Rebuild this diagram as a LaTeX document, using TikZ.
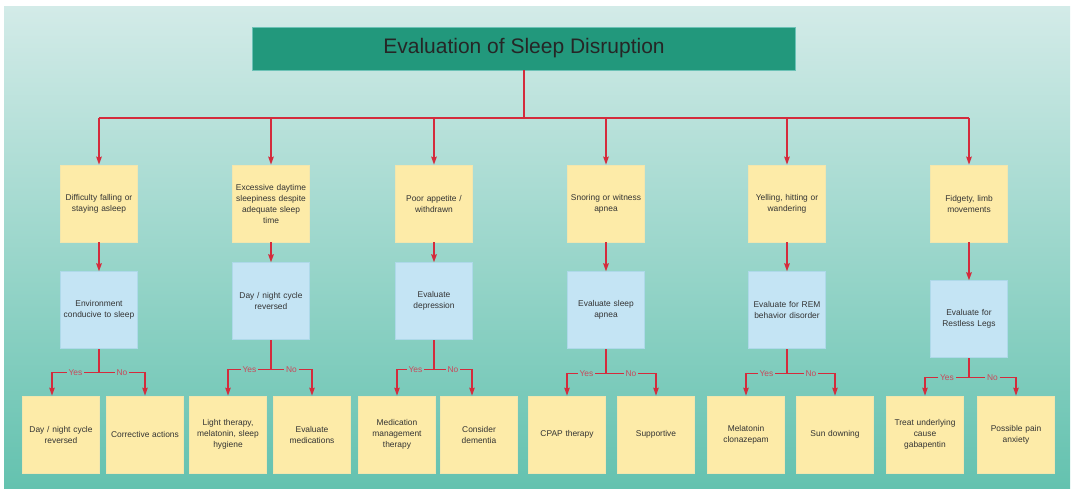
\documentclass[tikz,border=0pt]{standalone}
\usepackage{fontspec}
\setmainfont{Liberation Sans}
\usetikzlibrary{arrows.meta,positioning}

\definecolor{bgtop}{HTML}{D3EBE8}
\definecolor{bgbot}{HTML}{64C2AF}
\definecolor{titlefill}{HTML}{22987C}
\definecolor{titleline}{HTML}{6CC2B6}
\definecolor{redline}{HTML}{D42B3C}
\definecolor{labelred}{HTML}{C9485A}
\definecolor{sympt}{HTML}{FDEBA8}
\definecolor{symptline}{HTML}{F2E6AE}
\definecolor{evalfill}{HTML}{C4E4F4}
\definecolor{evalline}{HTML}{AED9E9}
\definecolor{txt}{HTML}{333333}

\tikzset{
	box/.style={rectangle, minimum width=77pt, minimum height=77pt, text width=76pt, inner sep=0.5pt, align=center, text=txt, line width=0.7pt, font=\fontsize{8.4}{11}\selectfont},
	symptom/.style={box, fill=sympt, draw=symptline},
	evalbox/.style={box, fill=evalfill, draw=evalline},
	yn/.style={inner sep=1.5pt, text=labelred, font=\fontsize{8.4}{9}\selectfont},
	trunk/.style={draw=redline, line width=1.8pt},
	feed/.style={draw=redline, line width=1.3pt, ->},
	branch/.style={draw=redline, line width=1.2pt},
}

\begin{document}
\begin{tikzpicture}[x=1pt, y=-1pt, >={Stealth[length=8pt, width=5.5pt, inset=1pt]}]
	
	%Hintergrund
	\useasboundingbox (0,0) rectangle (1072,488);
	\shade[top color=bgtop, bottom color=bgbot] (4,6) rectangle (1070,488);
	
	%Titel
	\node (title) [rectangle, fill=titlefill, draw=titleline, line width=0.8pt, minimum width=543pt, minimum height=43pt, text=black!85, font=\fontsize{21}{24}\selectfont] at (524,48.5) {Evaluation of Sleep Disruption};
	\coordinate (hub) at (524,118);
	
	%Symptome
	\node (s1) [symptom] at (99,203.5) {Difficulty falling or\\staying asleep};
	\node (s2) [symptom] at (271,203.5) {Excessive daytime\\sleepiness despite\\adequate sleep\\time};
	\node (s3) [symptom] at (434,203.5) {Poor appetite /\\withdrawn};
	\node (s4) [symptom] at (606,203.5) {Snoring or witness\\apnea};
	\node (s5) [symptom] at (787,203.5) {Yelling, hitting or\\wandering};
	\node (s6) [symptom] at (969,203.5) {Fidgety, limb\\movements};
	
	%Abklaerung
	\node (e1) [evalbox, below=29pt of s1] {Environment\\conducive to sleep};
	\node (e2) [evalbox, below=20pt of s2] {Day / night cycle\\reversed};
	\node (e3) [evalbox, below=20pt of s3] {Evaluate\\depression};
	\node (e4) [evalbox, below=29pt of s4] {Evaluate sleep\\apnea};
	\node (e5) [evalbox, below=29pt of s5] {Evaluate for REM\\behavior disorder};
	\node (e6) [evalbox, below=38pt of s6] {Evaluate for\\Restless Legs};
	
	%Massnahmen
	\node (d1) [symptom] at (61,434.5) {Day / night cycle\\reversed};
	\node (d2) [symptom] at (145,434.5) {Corrective actions};
	\node (d3) [symptom] at (228,434.5) {Light therapy,\\melatonin, sleep\\hygiene};
	\node (d4) [symptom] at (312,434.5) {Evaluate\\medications};
	\node (d5) [symptom] at (397,434.5) {Medication\\management\\therapy};
	\node (d6) [symptom] at (479,434.5) {Consider\\dementia};
	\node (d7) [symptom] at (567,434.5) {CPAP therapy};
	\node (d8) [symptom] at (656,434.5) {Supportive};
	\node (d9) [symptom] at (746,434.5) {Melatonin\\clonazepam};
	\node (d10) [symptom] at (835,434.5) {Sun downing};
	\node (d11) [symptom] at (925,434.5) {Treat underlying\\cause\\gabapentin};
	\node (d12) [symptom] at (1016,434.5) {Possible pain\\anxiety};
	
	%Verzweigungspunkte
	\coordinate[below=23.5pt of e1] (b1);
	\coordinate[below=29.5pt of e2] (b2);
	\coordinate[below=29.5pt of e3] (b3);
	\coordinate[below=24.5pt of e4] (b4);
	\coordinate[below=24.5pt of e5] (b5);
	\coordinate[below=19.5pt of e6] (b6);
	
	%Kanten
	\draw[trunk] (title) -- (hub);
	\draw[trunk] (hub -| s1) -- (hub -| s6);
	\draw[feed] (hub -| s1) -- (s1);
	\draw[feed] (hub -| s2) -- (s2);
	\draw[feed] (hub -| s3) -- (s3);
	\draw[feed] (hub -| s4) -- (s4);
	\draw[feed] (hub -| s5) -- (s5);
	\draw[feed] (hub -| s6) -- (s6);
	
	\draw[trunk, ->] (s1) -- (e1);
	\draw[trunk, ->] (s2) -- (e2);
	\draw[trunk, ->] (s3) -- (e3);
	\draw[trunk, ->] (s4) -- (e4);
	\draw[trunk, ->] (s5) -- (e5);
	\draw[trunk, ->] (s6) -- (e6);
	
	\draw[branch] (e1) -- (b1);
	\draw[branch] (e2) -- (b2);
	\draw[branch] (e3) -- (b3);
	\draw[branch] (e4) -- (b4);
	\draw[branch] (e5) -- (b5);
	\draw[branch] (e6) -- (b6);
	
	%Ja/Nein
	\path (b1) -- node (y1) [yn] {Yes} ([xshift=-9pt]b1 -| d1);
	\path (b1) -- node (n1) [yn] {No} (b1 -| d2);
	\path (b2) -- node (y2) [yn] {Yes} (b2 -| d3);
	\path (b2) -- node (n2) [yn] {No} (b2 -| d4);
	\path (b3) -- node (y3) [yn] {Yes} (b3 -| d5);
	\path (b3) -- node (n3) [yn] {No} ([xshift=-7pt]b3 -| d6);
	\path (b4) -- node (y4) [yn] {Yes} (b4 -| d7);
	\path (b4) -- node (n4) [yn] {No} (b4 -| d8);
	\path (b5) -- node (y5) [yn] {Yes} (b5 -| d9);
	\path (b5) -- node (n5) [yn] {No} (b5 -| d10);
	\path (b6) -- node (y6) [yn] {Yes} (b6 -| d11);
	\path (b6) -- node (n6) [yn] {No} (b6 -| d12);
	
	\draw[branch] (b1) -- (y1) (b1) -- (n1);
	\draw[branch] (b2) -- (y2) (b2) -- (n2);
	\draw[branch] (b3) -- (y3) (b3) -- (n3);
	\draw[branch] (b4) -- (y4) (b4) -- (n4);
	\draw[branch] (b5) -- (y5) (b5) -- (n5);
	\draw[branch] (b6) -- (y6) (b6) -- (n6);
	
	\draw[branch, ->] (y1) -| ([xshift=-9pt]d1.north);
	\draw[branch, ->] (n1) -| (d2);
	\draw[branch, ->] (y2) -| (d3);
	\draw[branch, ->] (n2) -| (d4);
	\draw[branch, ->] (y3) -| (d5);
	\draw[branch, ->] (n3) -| ([xshift=-7pt]d6.north);
	\draw[branch, ->] (y4) -| (d7);
	\draw[branch, ->] (n4) -| (d8);
	\draw[branch, ->] (y5) -| (d9);
	\draw[branch, ->] (n5) -| (d10);
	\draw[branch, ->] (y6) -| (d11);
	\draw[branch, ->] (n6) -| (d12);
	
\end{tikzpicture}
\end{document}
